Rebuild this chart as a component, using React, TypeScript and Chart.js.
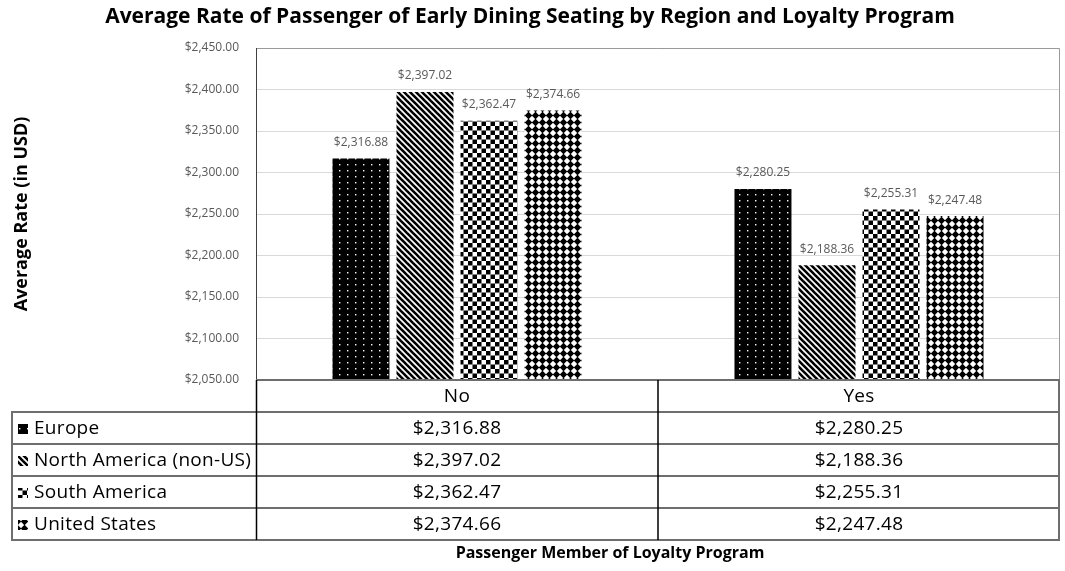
import React, { useEffect, useRef } from "react";
import { Chart, registerables } from "chart.js";

Chart.register(...registerables);

const categories = ["No", "Yes"];
const regions = ["Europe", "North America (non-US)", "South America", "United States"];
const europe = [2316.88, 2280.25];
const northAmerica = [2397.02, 2188.36];
const southAmerica = [2362.47, 2255.31];
const unitedStates = [2374.66, 2247.48];
const yMin = 2050;
const yMax = 2450;
const yStep = 50;

const chartTitle = "Average Rate of Passenger of Early Dining Seating by Region and Loyalty Program";
const yTitle = "Average Rate (in USD)";
const xTitle = "Passenger Member of Loyalty Program";

const FONT = "'Open Sans', 'Liberation Sans', sans-serif";

const money = (v: number) =>
  "$" + v.toLocaleString("en-US", { minimumFractionDigits: 2, maximumFractionDigits: 2 });

function makePattern(kind: string): CanvasPattern | string {
  const c = document.createElement("canvas");
  const g = c.getContext("2d");
  if (!g) return "#000";
  if (kind === "dots") {
    c.width = 8; c.height = 6;
    g.fillStyle = "#000"; g.fillRect(0, 0, 8, 6);
    g.fillStyle = "#fff"; g.fillRect(3, 2, 1.4, 1.4);
  } else if (kind === "stripes") {
    c.width = 6; c.height = 6;
    g.fillStyle = "#fff"; g.fillRect(0, 0, 6, 6);
    g.strokeStyle = "#000"; g.lineWidth = 2.6;
    for (let k = -1; k <= 1; k++) {
      g.beginPath(); g.moveTo(k * 6 - 1, -1); g.lineTo(k * 6 + 7, 7); g.stroke();
    }
  } else if (kind === "checker") {
    c.width = 9; c.height = 9;
    g.fillStyle = "#fff"; g.fillRect(0, 0, 9, 9);
    g.fillStyle = "#000"; g.fillRect(0, 0, 4.5, 4.5); g.fillRect(4.5, 4.5, 4.5, 4.5);
  } else {
    c.width = 7; c.height = 7;
    g.fillStyle = "#fff"; g.fillRect(0, 0, 7, 7);
    g.fillStyle = "#000";
    g.beginPath();
    g.moveTo(3.5, -0.3); g.lineTo(7.3, 3.5); g.lineTo(3.5, 7.3); g.lineTo(-0.3, 3.5);
    g.closePath(); g.fill();
  }
  const p = g.createPattern(c, "repeat");
  return p || "#000";
}

const overlay = {
  id: "overlay",
  afterDraw(chart: any) {
    const { ctx, chartArea: ca, scales } = chart;
    const xs = scales.x;
    ctx.save();

    // plot area border
    ctx.lineWidth = 1;
    ctx.strokeStyle = "#9a9a9a";
    ctx.beginPath();
    ctx.moveTo(ca.left, ca.top + 0.5); ctx.lineTo(ca.right - 0.5, ca.top + 0.5);
    ctx.lineTo(ca.right - 0.5, ca.bottom);
    ctx.stroke();
    ctx.strokeStyle = "#404040";
    ctx.beginPath();
    ctx.moveTo(ca.left + 0.5, ca.top); ctx.lineTo(ca.left + 0.5, ca.bottom);
    ctx.stroke();

    // data labels
    ctx.fillStyle = "#595959";
    ctx.font = "12px " + FONT;
    ctx.textAlign = "center";
    ctx.textBaseline = "middle";
    chart.data.datasets.forEach((ds: any, di: number) => {
      const meta = chart.getDatasetMeta(di);
      meta.data.forEach((bar: any, i: number) => {
        ctx.fillText(money(ds.data[i]), bar.x, bar.y - 16);
      });
    });

    // data table
    const rowH = 32;
    const top = ca.bottom;
    const tableLeft = 12;
    const mid = (xs.getPixelForValue(0) + xs.getPixelForValue(1)) / 2;
    const bottom = top + rowH * (regions.length + 1);

    ctx.strokeStyle = "#6e6e6e";
    ctx.lineWidth = 2;
    ctx.beginPath();
    ctx.moveTo(ca.left, top); ctx.lineTo(ca.right, top);
    for (let k = 1; k <= regions.length + 1; k++) {
      ctx.moveTo(tableLeft, top + rowH * k); ctx.lineTo(ca.right, top + rowH * k);
    }
    ctx.moveTo(tableLeft, top + rowH - 1); ctx.lineTo(tableLeft, bottom + 1);
    ctx.moveTo(ca.right - 1, top); ctx.lineTo(ca.right - 1, bottom + 1);
    ctx.stroke();

    ctx.strokeStyle = "#000";
    ctx.lineWidth = 1.5;
    ctx.beginPath();
    ctx.moveTo(ca.left + 0.5, top); ctx.lineTo(ca.left + 0.5, bottom);
    ctx.moveTo(mid, top); ctx.lineTo(mid, bottom);
    ctx.stroke();

    ctx.fillStyle = "#000";
    ctx.font = "19px " + FONT;
    (ctx as any).letterSpacing = "0.3px";
    ctx.textBaseline = "middle";
    ctx.textAlign = "center";
    categories.forEach((c, i) => {
      ctx.fillText(c, xs.getPixelForValue(i), top + rowH / 2 + 1);
    });
    chart.data.datasets.forEach((ds: any, di: number) => {
      const cy = top + rowH * (di + 1) + rowH / 2 + 1;
      ctx.fillStyle = ds.backgroundColor;
      ctx.fillRect(18, cy - 5, 10, 10);
      ctx.fillStyle = "#000";
      ctx.textAlign = "left";
      ctx.fillText(ds.label, 34, cy);
      ctx.textAlign = "center";
      ds.data.forEach((v: number, i: number) => {
        ctx.fillText(money(v), xs.getPixelForValue(i), cy);
      });
    });

    // x axis title
    (ctx as any).letterSpacing = "0px";
    ctx.font = "bold 16px " + FONT;
    ctx.fillText(xTitle, 610, 553);
    ctx.restore();
  },
};

export default function App() {
  const ref = useRef<HTMLCanvasElement>(null);
  useEffect(() => {
    document.body.style.margin = "0";
    const canvas = ref.current;
    if (!canvas) return;
    const seriesData = [europe, northAmerica, southAmerica, unitedStates];
    const kinds = ["dots", "stripes", "checker", "diamonds"];
    const chart = new Chart(canvas, {
      type: "bar",
      data: {
        labels: categories,
        datasets: regions.map((r, i) => ({
          label: r,
          data: seriesData[i],
          backgroundColor: makePattern(kinds[i]) as any,
          borderWidth: 0,
          barPercentage: 0.89,
          categoryPercentage: 0.637,
        })),
      },
      plugins: [overlay],
      options: {
        responsive: false,
        animation: false,
        devicePixelRatio: 1,
        layout: { padding: { left: 0, right: 5, top: 0, bottom: 191 } },
        plugins: {
          legend: { display: false },
          tooltip: { enabled: false },
          title: {
            display: true,
            text: chartTitle,
            color: "#000",
            font: { family: FONT, size: 21, weight: "bold" },
            padding: { top: 4.4, bottom: 18.4 },
          },
        },
        scales: {
          x: { display: false, grid: { display: false } },
          y: {
            min: yMin,
            max: yMax,
            afterFit: (s: any) => { s.width = 256; },
            ticks: {
              stepSize: yStep,
              padding: 17,
              color: "#595959",
              font: { family: FONT, size: 12 },
              callback: (v: any) => money(Number(v)),
            },
            grid: { color: "#d9d9d9", drawTicks: false },
            border: { display: false },
            title: {
              display: true,
              text: yTitle,
              color: "#000",
              font: { family: FONT, size: 18, weight: "bold" },
              padding: { top: 11, bottom: 0 },
            },
          },
        },
      },
    });
    return () => chart.destroy();
  }, []);
  return (
    <div style={{ position: "absolute", left: 0, top: 0, width: 1065, height: 571, background: "#fff" }}>
      <canvas ref={ref} width={1065} height={571} style={{ width: 1065, height: 571, display: "block" }} />
    </div>
  );
}
